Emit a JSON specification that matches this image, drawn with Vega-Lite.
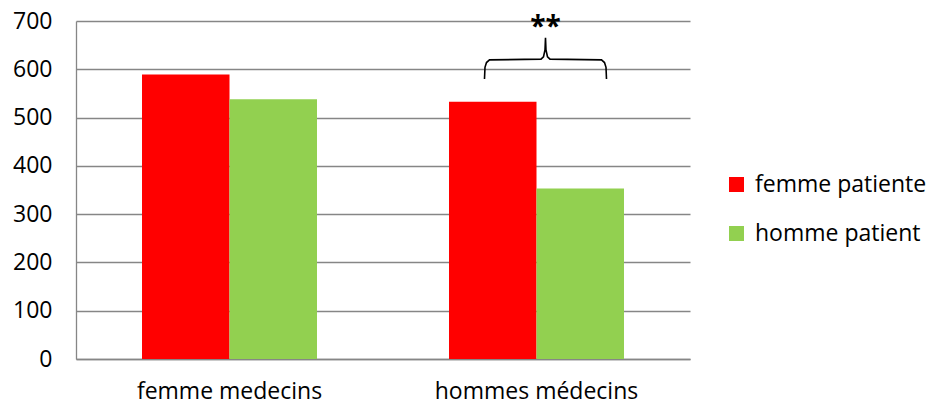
{
  "$schema": "https://vega.github.io/schema/vega-lite/v6.json",
  "width": 614,
  "height": 338,
  "autosize": {"type": "none"},
  "padding": {"left": 76, "top": 21, "right": 239, "bottom": 46},
  "background": "white",
  "config": {"view": {"stroke": null}, "font": "Open Sans"},
  "datasets": {
    "bars": [
      {"medecin": "femme medecins", "patient": "femme patiente", "valeur": 589},
      {"medecin": "femme medecins", "patient": "homme patient", "valeur": 538},
      {"medecin": "hommes médecins", "patient": "femme patiente", "valeur": 533},
      {"medecin": "hommes médecins", "patient": "homme patient", "valeur": 353}
    ],
    "brace": [
      {"i": 1, "bx": 1.3306, "by": 580},
      {"i": 2, "bx": 1.3322, "by": 604},
      {"i": 3, "bx": 1.3371, "by": 614},
      {"i": 4, "bx": 1.3469, "by": 619.5},
      {"i": 5, "bx": 1.5147, "by": 621},
      {"i": 6, "bx": 1.5228, "by": 626},
      {"i": 7, "bx": 1.5277, "by": 640},
      {"i": 8, "bx": 1.5293, "by": 665},
      {"i": 9, "bx": 1.5309, "by": 640},
      {"i": 10, "bx": 1.5358, "by": 626},
      {"i": 11, "bx": 1.5440, "by": 621},
      {"i": 12, "bx": 1.7117, "by": 619.5},
      {"i": 13, "bx": 1.7215, "by": 614},
      {"i": 14, "bx": 1.7264, "by": 604},
      {"i": 15, "bx": 1.7280, "by": 580}
    ],
    "stars": [{"sx": 1.5293, "sy": 669, "label": "**"}]
  },
  "layer": [
    {
      "data": {"name": "bars"},
      "mark": {"type": "bar"},
      "encoding": {
        "x": {
          "field": "medecin", "type": "nominal",
          "sort": ["femme medecins", "hommes médecins"],
          "scale": {"paddingInner": 0.43, "paddingOuter": 0.215},
          "axis": {"title": null, "labelAngle": 0, "labelFontSize": 23, "labelColor": "black", "labelPadding": 21, "labelLimit": 0, "ticks": false, "domainColor": "#868686", "domainWidth": 1.3, "labelFont": "Open Sans"}
        },
        "xOffset": {"field": "patient", "type": "nominal", "sort": ["femme patiente", "homme patient"]},
        "y": {
          "field": "valeur", "type": "quantitative",
          "scale": {"domain": [0, 700], "nice": false},
          "axis": {"title": null, "values": [0, 100, 200, 300, 400, 500, 600, 700], "grid": true, "gridColor": "#868686", "gridWidth": 1.3, "ticks": false, "labelPadding": 24, "labelFontSize": 23, "labelColor": "black", "labelFont": "Open Sans", "domainColor": "#868686", "domainWidth": 1.3}
        },
        "color": {
          "field": "patient", "type": "nominal",
          "scale": {"domain": ["femme patiente", "homme patient"], "range": ["#FF0000", "#92D050"]},
          "legend": {"title": null, "orient": "none", "legendX": 649, "legendY": 152, "symbolType": "square", "symbolSize": 225, "symbolStrokeWidth": 0, "labelFontSize": 23, "labelColor": "black", "labelFont": "Open Sans", "labelLimit": 0, "rowPadding": 25, "labelOffset": 7}
        }
      }
    },
    {
      "data": {"name": "brace"},
      "mark": {"type": "line", "color": "black", "strokeWidth": 1.6},
      "encoding": {
        "x": {"field": "bx", "type": "quantitative", "scale": {"domain": [0, 2], "nice": false, "zero": false}, "axis": null},
        "y": {"field": "by", "type": "quantitative", "title": null, "scale": {"domain": [0, 700], "nice": false}},
        "order": {"field": "i", "type": "quantitative"}
      }
    },
    {
      "data": {"name": "stars"},
      "mark": {"type": "text", "fontSize": 28, "fontWeight": "bold", "baseline": "alphabetic", "color": "black", "font": "Open Sans"},
      "encoding": {
        "x": {"field": "sx", "type": "quantitative", "scale": {"domain": [0, 2], "nice": false, "zero": false}, "axis": null},
        "y": {"field": "sy", "type": "quantitative", "title": null, "scale": {"domain": [0, 700], "nice": false}},
        "text": {"field": "label"}
      }
    }
  ],
  "resolve": {"scale": {"x": "independent"}}
}
